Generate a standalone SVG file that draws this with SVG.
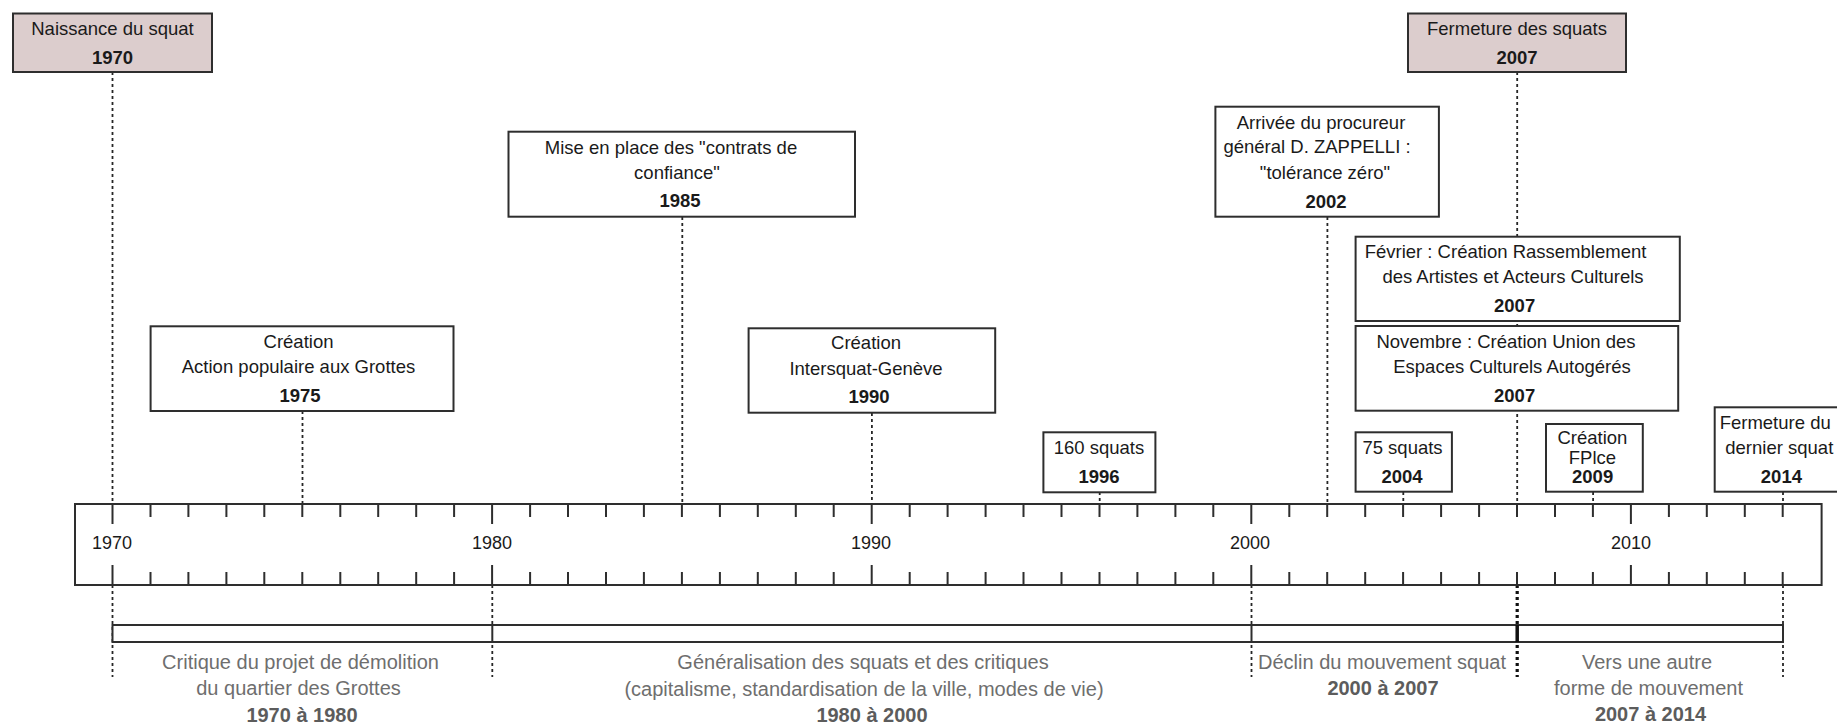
<svg xmlns="http://www.w3.org/2000/svg" width="1837" height="724" viewBox="0 0 1837 724">
<style>
text{font-family:"Liberation Sans",Arial,sans-serif;text-anchor:middle;fill:#1a1a1a}
.t{font-size:18.5px}
.b{font-size:18.5px;font-weight:bold}
.box{fill:#fff;stroke:#2e2e2e;stroke-width:2}
.key{fill:#dccdcd;stroke:#2e2e2e;stroke-width:2}
.dash{stroke:#262626;stroke-width:1.8;stroke-dasharray:3 3;fill:none}
.dashb{stroke:#111;stroke-width:3.2;stroke-dasharray:3 3;fill:none}
.axis{fill:#fff;stroke:#2e2e2e;stroke-width:2}
.tick{stroke:#2e2e2e;stroke-width:2}
.p{font-size:20px;fill:#6e6e6e}
.pb{font-size:20px;font-weight:bold;fill:#5c5c5c}
.yl{font-size:18px}
</style>

<g id="connectors">
<line class="dash" x1="112.5" y1="72" x2="112.5" y2="504"/>
<line class="dash" x1="302.5" y1="411" x2="302.5" y2="504"/>
<line class="dash" x1="682.3" y1="217" x2="682.3" y2="504"/>
<line class="dash" x1="871.9" y1="413" x2="871.9" y2="504"/>
<line class="dash" x1="1099.7" y1="492" x2="1099.7" y2="504"/>
<line class="dash" x1="1327.4" y1="217" x2="1327.4" y2="504"/>
<line class="dash" x1="1403.3" y1="492" x2="1403.3" y2="504"/>
<line class="dash" x1="1517.2" y1="72" x2="1517.2" y2="504"/>
<line class="dash" x1="1593.1" y1="492" x2="1593.1" y2="504"/>
<line class="dash" x1="1783" y1="492" x2="1783" y2="504"/>
<line class="dash" x1="112.5" y1="585" x2="112.5" y2="677"/>
<line class="dash" x1="492.3" y1="585" x2="492.3" y2="677"/>
<line class="dash" x1="1251.5" y1="585" x2="1251.5" y2="677"/>
<line class="dashb" x1="1517.2" y1="585" x2="1517.2" y2="677"/>
<line class="dash" x1="1783" y1="585" x2="1783" y2="677"/>
</g>

<g id="axis">
<rect class="axis" x="75" y="504" width="1746.6" height="81"/>
<path class="tick" d="M112.5 504v20M150.5 504v13M188.4 504v13M226.4 504v13M264.3 504v13M302.3 504v13M340.3 504v13M378.2 504v13M416.2 504v13M454.1 504v13M492.1 504v20M530.1 504v13M568 504v13M606 504v13M643.9 504v13M681.9 504v13M719.9 504v13M757.8 504v13M795.8 504v13M833.7 504v13M871.7 504v20M909.7 504v13M947.6 504v13M985.6 504v13M1023.5 504v13M1061.5 504v13M1099.5 504v13M1137.4 504v13M1175.4 504v13M1213.3 504v13M1251.3 504v20M1289.3 504v13M1327.2 504v13M1365.2 504v13M1403.1 504v13M1441.1 504v13M1479.1 504v13M1517 504v13M1555 504v13M1592.9 504v13M1630.9 504v20M1668.9 504v13M1706.8 504v13M1744.8 504v13M1782.7 504v13"/>
<path class="tick" d="M112.5 585v-20M150.5 585v-13M188.4 585v-13M226.4 585v-13M264.3 585v-13M302.3 585v-13M340.3 585v-13M378.2 585v-13M416.2 585v-13M454.1 585v-13M492.1 585v-20M530.1 585v-13M568 585v-13M606 585v-13M643.9 585v-13M681.9 585v-13M719.9 585v-13M757.8 585v-13M795.8 585v-13M833.7 585v-13M871.7 585v-20M909.7 585v-13M947.6 585v-13M985.6 585v-13M1023.5 585v-13M1061.5 585v-13M1099.5 585v-13M1137.4 585v-13M1175.4 585v-13M1213.3 585v-13M1251.3 585v-20M1289.3 585v-13M1327.2 585v-13M1365.2 585v-13M1403.1 585v-13M1441.1 585v-13M1479.1 585v-13M1517 585v-13M1555 585v-13M1592.9 585v-13M1630.9 585v-20M1668.9 585v-13M1706.8 585v-13M1744.8 585v-13M1782.7 585v-13"/>
<text class="yl" x="112" y="549">1970</text>
<text class="yl" x="492" y="549">1980</text>
<text class="yl" x="871" y="549">1990</text>
<text class="yl" x="1250" y="549">2000</text>
<text class="yl" x="1631" y="549">2010</text>
</g>

<g id="periods">
<rect class="axis" x="112.5" y="625" width="1670.5" height="17"/>
<line class="tick" x1="492.3" y1="625" x2="492.3" y2="642"/>
<line class="tick" x1="1251.5" y1="625" x2="1251.5" y2="642"/>
<line stroke="#111" stroke-width="3.5" x1="1517.2" y1="625" x2="1517.2" y2="642"/>
</g>

<g id="period-1970-1980">
<text class="p" x="300.5" y="669">Critique du projet de démolition</text>
<text class="p" x="298.5" y="695">du quartier des Grottes</text>
<text class="pb" x="302" y="722">1970 à 1980</text>
</g>
<g id="period-1980-2000">
<text class="p" x="863" y="669">Généralisation des squats et des critiques</text>
<text class="p" x="864" y="696">(capitalisme, standardisation de la ville, modes de vie)</text>
<text class="pb" x="872" y="722">1980 à 2000</text>
</g>
<g id="period-2000-2007">
<text class="p" x="1382" y="669">Déclin du mouvement squat</text>
<text class="pb" x="1383" y="695">2000 à 2007</text>
</g>
<g id="period-2007-2014">
<text class="p" x="1647" y="669">Vers une autre</text>
<text class="p" x="1648.5" y="695">forme de mouvement</text>
<text class="pb" x="1650.5" y="721">2007 à 2014</text>
</g>

<g id="e1970">
<rect class="key" x="13" y="13.5" width="199" height="58.5"/>
<text class="t" x="112.5" y="35">Naissance du squat</text>
<text class="b" x="112.5" y="64">1970</text>
</g>
<g id="e2007-fermeture">
<rect class="key" x="1408" y="13.5" width="218" height="58.5"/>
<text class="t" x="1517" y="35">Fermeture des squats</text>
<text class="b" x="1517" y="64">2007</text>
</g>
<g id="e1975">
<rect class="box" x="150.6" y="326.3" width="302.9" height="84.7"/>
<text class="t" x="298.5" y="347.5">Création</text>
<text class="t" x="298.5" y="373">Action populaire aux Grottes</text>
<text class="b" x="300" y="402">1975</text>
</g>
<g id="e1985">
<rect class="box" x="508.5" y="131.7" width="346.5" height="85"/>
<text class="t" x="671" y="154">Mise en place des "contrats de</text>
<text class="t" x="677" y="179">confiance"</text>
<text class="b" x="680" y="207">1985</text>
</g>
<g id="e1990">
<rect class="box" x="748.6" y="328.3" width="246.6" height="84.4"/>
<text class="t" x="866" y="349">Création</text>
<text class="t" x="866" y="375">Intersquat-Genève</text>
<text class="b" x="869" y="403">1990</text>
</g>
<g id="e1996">
<rect class="box" x="1043.4" y="432.3" width="112" height="60"/>
<text class="t" x="1099" y="454">160 squats</text>
<text class="b" x="1099" y="483">1996</text>
</g>
<g id="e2002">
<rect class="box" x="1215.4" y="106.7" width="223.5" height="110"/>
<text class="t" x="1321" y="129">Arrivée du procureur</text>
<text class="t" x="1317" y="153">général D. ZAPPELLI :</text>
<text class="t" x="1325" y="179">"tolérance zéro"</text>
<text class="b" x="1326" y="207.5">2002</text>
</g>
<g id="e2007-fevrier">
<rect class="box" x="1355.6" y="236.7" width="324.2" height="84.3"/>
<text class="t" x="1505.5" y="258">Février : Création Rassemblement</text>
<text class="t" x="1513" y="283">des Artistes et Acteurs Culturels</text>
<text class="b" x="1514.6" y="311.5">2007</text>
</g>
<g id="e2007-novembre">
<rect class="box" x="1355.6" y="326" width="322.6" height="84.7"/>
<text class="t" x="1506" y="347.5">Novembre : Création Union des</text>
<text class="t" x="1512" y="373">Espaces Culturels Autogérés</text>
<text class="b" x="1514.6" y="402">2007</text>
</g>
<g id="e2004">
<rect class="box" x="1355.6" y="432.3" width="96.3" height="59.4"/>
<text class="t" x="1402.5" y="454">75 squats</text>
<text class="b" x="1402" y="482.5">2004</text>
</g>
<g id="e2009">
<rect class="box" x="1546" y="424" width="96.8" height="67.7"/>
<text class="t" x="1592.4" y="444">Création</text>
<text class="t" x="1592.4" y="463.5">FPlce</text>
<text class="b" x="1592.6" y="482.5">2009</text>
</g>
<g id="e2014">
<rect class="box" x="1714.7" y="407.3" width="137" height="84.4"/>
<text class="t" x="1775.2" y="428.8">Fermeture du</text>
<text class="t" x="1779.3" y="454">dernier squat</text>
<text class="b" x="1781.4" y="482.5">2014</text>
</g>
</svg>
